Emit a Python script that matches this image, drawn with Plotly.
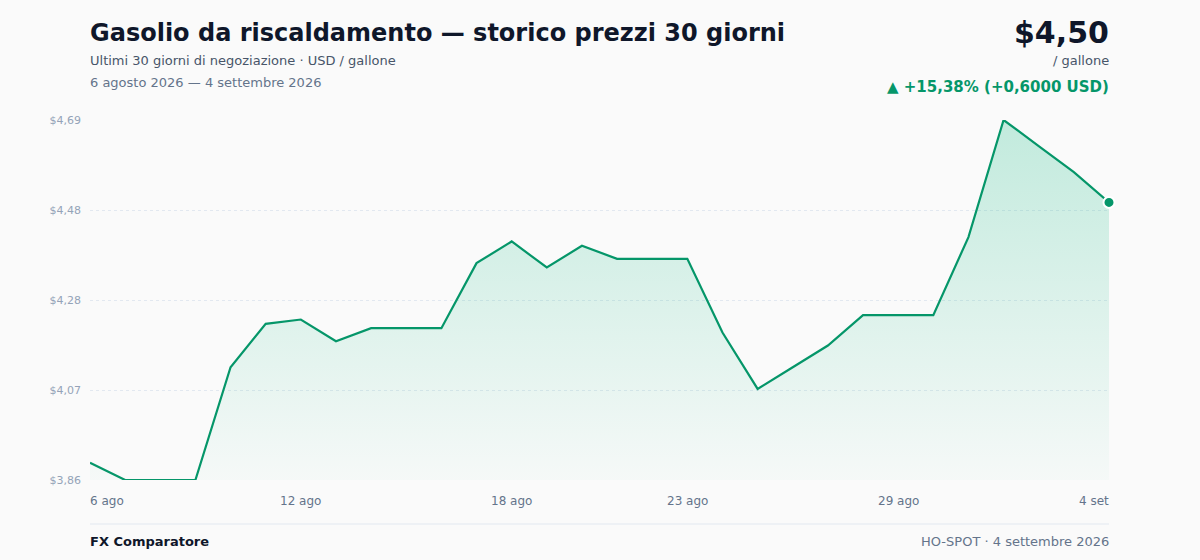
import pandas as pd
import numpy as np
import plotly.graph_objects as go

# Heating oil spot, USD per gallon, daily
DATES = pd.date_range("2026-08-06", "2026-09-04", freq="D")
PRICES = [3.90, 3.86, 3.86, 3.86, 4.12, 4.22, 4.23, 4.18, 4.21, 4.21,
          4.21, 4.36, 4.41, 4.35, 4.40, 4.37, 4.37, 4.37, 4.20, 4.07,
          4.12, 4.17, 4.24, 4.24, 4.24, 4.42, 4.69, 4.63, 4.57, 4.50]

X_TICK_IDX = [0, 6, 12, 17, 23, 29]
X_TICK_LABELS = ["6 ago", "12 ago", "18 ago", "23 ago", "29 ago", "4 set"]
Y_TICK_LABELS = ["$3,86", "$4,07", "$4,28", "$4,48", "$4,69"]

TITLE = "Gasolio da riscaldamento — storico prezzi 30 giorni"
SUBTITLE = "Ultimi 30 giorni di negoziazione · USD / gallone"
PERIOD = "6 agosto 2026 — 4 settembre 2026"
SOURCE = "FX Comparatore"
FOOTNOTE = "HO-SPOT · 4 settembre 2026"

GREEN = "#059669"
BG = "#fafafa"
FONT = "DejaVu Sans"


def it_num(v, dec):
    return f"{v:.{dec}f}".replace(".", ",")


y_min, y_max = min(PRICES), max(PRICES)
first, last = PRICES[0], PRICES[-1]
delta = last - first
pct = delta / first * 100

fig = go.Figure()

# baseline so the gradient fill stops at the bottom of the axis
fig.add_trace(go.Scatter(x=DATES, y=[y_min] * len(DATES), mode="lines",
                         line=dict(width=0), hoverinfo="skip", showlegend=False))
fig.add_trace(go.Scatter(
    x=DATES, y=PRICES, mode="lines", fill="tonexty",
    fillgradient=dict(type="vertical", start=y_min, stop=y_max,
                      colorscale=[[0, "rgba(16,185,129,0.02)"], [1, "rgba(16,185,129,0.24)"]]),
    line=dict(color=GREEN, width=2.2), cliponaxis=False, showlegend=False,
))
fig.add_trace(go.Scatter(
    x=[DATES[-1]], y=[last], mode="markers", cliponaxis=False, showlegend=False,
    marker=dict(size=11, color=GREEN, line=dict(color="white", width=2)),
))

ann = []
for i, lab in zip(X_TICK_IDX, X_TICK_LABELS):
    anchor = "left" if i == 0 else ("right" if i == len(DATES) - 1 else "center")
    ann.append(dict(x=DATES[i], y=-0.058, xref="x", yref="paper", text=lab,
                    showarrow=False, xanchor=anchor, yanchor="middle",
                    borderpad=0, borderwidth=0,
                    font=dict(size=12, color="#64748b")))

def txt(x, y, text, size, color, anchor="left", bold=False):
    if bold:
        text = f"<b>{text}</b>"
    ann.append(dict(x=x, y=y, xref="paper", yref="paper", text=text, showarrow=False,
                    xanchor=anchor, yanchor="middle", borderpad=0, borderwidth=0,
                    font=dict(size=size, color=color)))

# header (paper coords: plot area spans y 120..480 px)
def py(px):
    return (480 - px) / 360

txt(0, py(33), TITLE, 24, "#0f172a", bold=True)
txt(0, py(61), SUBTITLE, 13, "#475569")
txt(0, py(83), PERIOD, 13, "#64748b")
txt(1, py(32), "$" + it_num(last, 2), 30, "#0f172a", "right", bold=True)
txt(1, py(61), "/ gallone", 13, "#475569", "right")
txt(1, py(87), f"▲ +{it_num(pct, 2)}% (+{it_num(delta, 4)} USD)", 15, GREEN, "right", bold=True)
txt(0, py(541), SOURCE, 13, "#0f172a", bold=True)
txt(1, py(541), FOOTNOTE, 13, "#64748b", "right")

fig.update_layout(
    width=1200, height=560,
    margin=dict(l=90, r=91, t=120, b=80),
    paper_bgcolor=BG, plot_bgcolor=BG,
    font=dict(family=FONT, color="#0f172a"),
    annotations=ann,
    shapes=[dict(type="line", xref="paper", yref="paper", x0=0, x1=1,
                 y0=py(524), y1=py(524), line=dict(color="#e2e8f0", width=1))],
    hovermode=False,
)
fig.update_xaxes(range=[DATES[0], DATES[-1]], showgrid=False, zeroline=False,
                 showticklabels=False, showline=False)
fig.update_yaxes(range=[y_min, y_max], tickvals=np.linspace(y_min, y_max, 5),
                 ticktext=Y_TICK_LABELS, showgrid=True, gridcolor="#e2e8f0",
                 griddash="dot", gridwidth=1, zeroline=False, showline=False,
                 ticklabelstandoff=8, tickfont=dict(size=11, color="#94a3b8"))

fig.write_html("out.html", config={"displayModeBar": False},
               post_script=f"document.body.style.margin='0';document.body.style.background='{BG}';")
